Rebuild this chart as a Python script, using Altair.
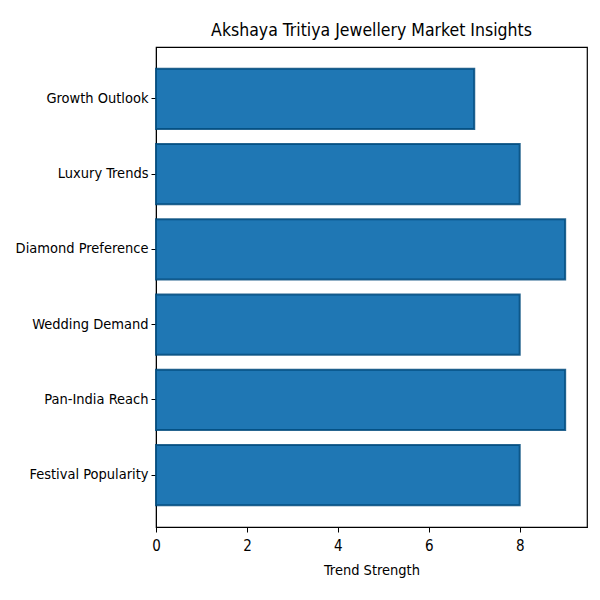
import altair as alt
import pandas as pd

categories = ["Growth Outlook", "Luxury Trends", "Diamond Preference",
              "Wedding Demand", "Pan-India Reach", "Festival Popularity"]
values = [7, 8, 9, 8, 9, 8]
x_ticks = [0, 2, 4, 6, 8]

df = pd.DataFrame({"Category": categories, "Value": values})

FONT = "DejaVu Sans Condensed, DejaVu Sans"

bars = alt.Chart(df).mark_bar(
    color="#1f77b4", stroke="#004a7c", strokeWidth=2, strokeOpacity=0.85
).encode(
    x=alt.X("Value:Q", title="Trend Strength",
            scale=alt.Scale(domain=[0, 9.48], nice=False, zero=True),
            axis=alt.Axis(values=x_ticks, grid=False, domainColor="black",
                          tickColor="black", labelColor="black",
                          titleColor="black", labelFontSize=15,
                          titleFontSize=14.5, titleFontWeight="normal",
                          labelFont=FONT, titleFont=FONT, tickSize=5,
                          labelPadding=6, titlePadding=10, labelFlush=False)),
    y=alt.Y("Category:N", sort=categories, title=None,
            scale=alt.Scale(paddingInner=0.2, paddingOuter=0.29),
            axis=alt.Axis(domainColor="black", tickColor="black",
                          labelColor="black", labelFontSize=14.5,
                          labelFont=FONT, tickSize=5, labelPadding=3)),
)

chart = bars.properties(
    width=431, height=480,
    title=alt.TitleParams("Akshaya Tritiya Jewellery Market Insights",
                          font=FONT, fontSize=17.5, fontWeight="normal",
                          color="black", anchor="middle", offset=8),
    autosize=alt.AutoSizeParams(type="none"),
    padding={"left": 148, "top": 39, "right": 5, "bottom": 65},
).configure_view(stroke="black", strokeWidth=1.2)

chart.save("out.html", embed_options={"renderer": "svg", "actions": False})
